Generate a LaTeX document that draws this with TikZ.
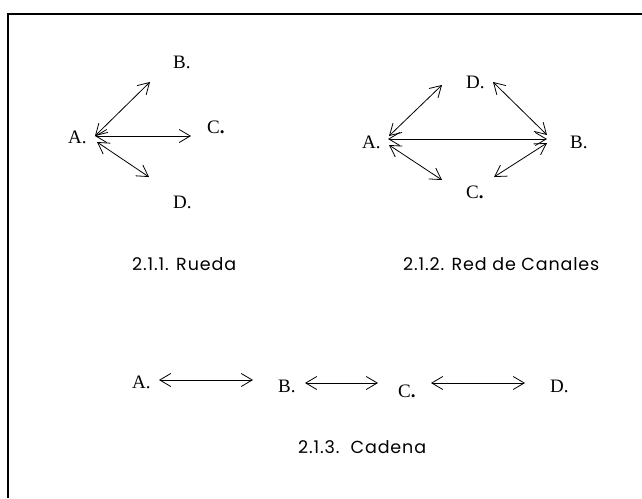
\documentclass[tikz,border=0pt]{standalone}
\usepackage{fontspec}
\setmainfont{Liberation Serif}
\newfontfamily\capfont[LetterSpace=5]{Poppins}
\usetikzlibrary{arrows.meta}
\begin{document}
\begin{tikzpicture}[x=1pt,y=-1pt,
  lett/.style={anchor=base west,inner sep=0pt,font=\fontsize{19}{19}\selectfont},
  capt/.style={anchor=base west,inner sep=0pt,font=\capfont\fontsize{17.5}{19}\selectfont},
  link/.style={line width=0.8pt,{Straight Barb[length=11pt,width=13pt,line width=0.8pt]}-{Straight Barb[length=11pt,width=13pt,line width=0.8pt]}},
  frame/.style={line width=2pt}]
\useasboundingbox (0,0) rectangle (642,498);
\fill[white] (0,0) rectangle (642,498);
% frame (only top and left edges are visible)
\coordinate (fbl) at (7.5,498);
\coordinate (ftl) at (7.5,14);
\coordinate (ftr) at (642,14);
\draw[frame] (fbl) -- (ftl) -- (ftr);
% ---- Rueda ----
\node[lett] (rA) at (68,143) {A.};
\node[lett] (rB) at (173,68) {B.};
\node[lett] (rC) at (207,133) {C\textbf{.}};
\node[lett] (rD) at (173,208) {D.};
\coordinate (rh1) at (95,136);
\coordinate (rh2) at (97,142);
\coordinate (rbE) at (150,82);
\coordinate (rcE) at (191,136);
\coordinate (rdE) at (149,177);
\draw[link] (rh1) -- (rbE);
\draw[link] (rh1) -- (rcE);
\draw[link] (rh2) -- (rdE);
\node[capt] (cap1) at (132,270) {2.1.1. Rueda};
% ---- Red de Canales ----
\node[lett] (nD) at (466,88) {D.};
\node[lett] (nA) at (362,148) {A.};
\node[lett] (nB) at (570,148) {B.};
\node[lett] (nC) at (466,198) {C\textbf{.}};
\coordinate (nah) at (388,139);
\coordinate (nbh) at (547,139);
\coordinate (na1) at (389,136);
\coordinate (nd1) at (442,85);
\coordinate (nd2) at (493,82);
\coordinate (nb1) at (547,135);
\coordinate (na2) at (389,145);
\coordinate (nc1) at (442,180);
\coordinate (nc2) at (494,177);
\coordinate (nb2) at (547,143);
\draw[link] (na1) -- (nd1);
\draw[link] (nd2) -- (nb1);
\draw[link] (na2) -- (nc1);
\draw[link] (nc2) -- (nb2);
\draw[link] (nah) -- (nbh);
\node[capt] (cap2) at (403,270) {2.1.2. Red de Canales};
% ---- Cadena ----
\node[lett] (kA) at (132,388) {A.};
\node[lett] (kB) at (278,392) {B.};
\node[lett] (kC) at (398,397) {C\textbf{.}};
\node[lett] (kD) at (550,392) {D.};
\coordinate (k1a) at (159,380);
\coordinate (k1b) at (253,380);
\coordinate (k2a) at (305,383);
\coordinate (k2b) at (378,383);
\coordinate (k3a) at (431,383);
\coordinate (k3b) at (525,383);
\draw[link] (k1a) -- (k1b);
\draw[link] (k2a) -- (k2b);
\draw[link] (k3a) -- (k3b);
\node[capt] (cap3) at (298,453) {2.1.3.\ \ Cadena};
\end{tikzpicture}
\end{document}
